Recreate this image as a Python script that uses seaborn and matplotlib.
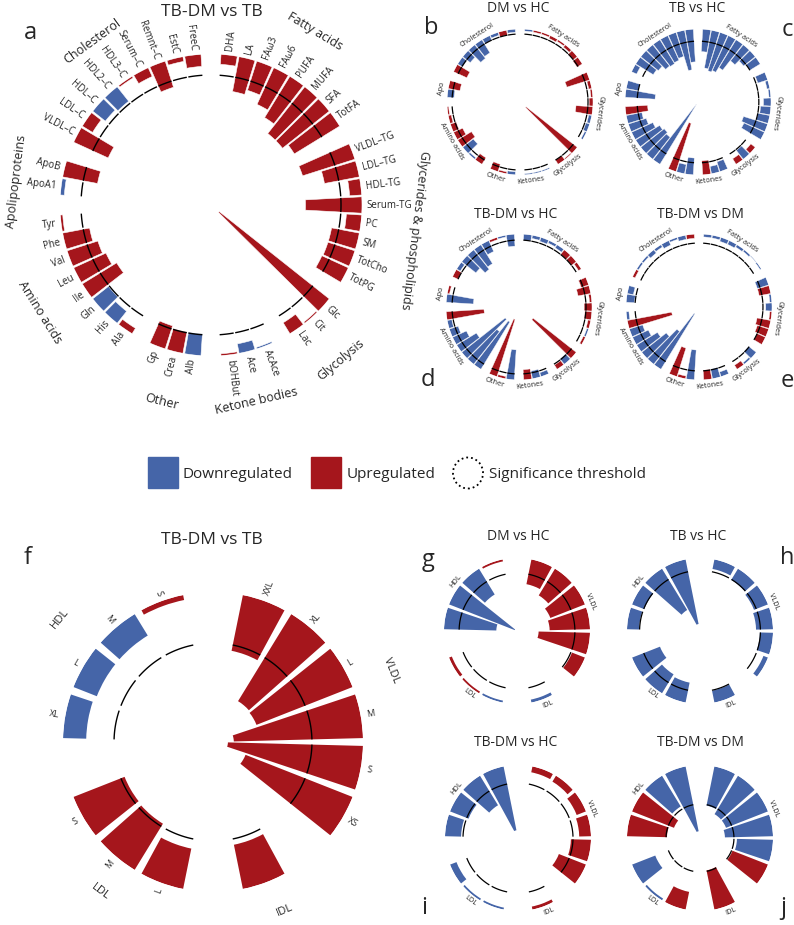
import numpy as np
import matplotlib.pyplot as plt
import seaborn as sns
from matplotlib.patches import Rectangle, Ellipse

sns.set_theme(style="white")
plt.rcParams['font.family'] = ['Open Sans', 'DejaVu Sans']
BLUE, RED = sns.color_palette(["#4565A8", "#A5161C"])

W, H = 794, 925

# ---- metabolite groups (clockwise from top) ----
fa = ["DHA", "LA", "FAω3", "FAω6", "PUFA", "MUFA", "SFA", "TotFA"]
gly = ["VLDL–TG", "LDL–TG", "HDL-TG", "Serum-TG", "PC", "SM", "TotCho", "TotPG"]
glyco = ["Glc", "Cit", "Lac"]
ket = ["AcAce", "Ace", "bOHBut"]
oth = ["Alb", "Crea", "Gp"]
aa = ["Ala", "His", "Gln", "Ile", "Leu", "Val", "Phe", "Tyr"]
apo = ["ApoA1", "ApoB"]
chol = ["VLDL–C", "LDL–C", "HDL–C", "HDL2–C", "HDL3–C", "Serum–C", "Remnt–C", "EstC", "FreeC"]
metab_groups = [fa, gly, glyco, ket, oth, aa, apo, chol]

# group labels: (text, angle in deg clockwise from top, radius factor)
big_glabels = [("Fatty acids", 31, 1.34), ("Glycerides & phospholipids", 97, 1.36), ("Glycolysis", 140, 1.34),
               ("Ketone bodies", 167, 1.33), ("Other", 194, 1.34), ("Amino acids", 238, 1.34),
               ("Apolipoproteins", 277, 1.30), ("Cholesterol", 324, 1.34)]
small_glabels = [("Fatty acids", 33, 1.085), ("Glycerides", 98, 1.085), ("Glycolysis", 143, 1.085),
                 ("Ketones", 172, 1.085), ("Other", 198, 1.085), ("Amino acids", 240, 1.085),
                 ("Apo", 280, 1.085), ("Cholesterol", 327, 1.085)]

# signed -log10(p): >0 upregulated, <0 downregulated (order: fa, gly, glyco, ket, oth, aa, apo, chol)
a_vals = [0.62, 2.2, 1.9, 2.5, 3.0, 3.7, 3.7, 3.3,
          3.4, 2.2, 0.75, 3.5, 0.95, 1.75, 1.75, 1.8,
          8.7, 0.1, 0.8,
          -0.1, -0.6, 0.12,
          -1.35, 1.35, 1.5,
          0.4, -0.95, -1.25, 2.5, 2.2, 2.0, 1.7, 0.15,
          -0.25, 2.2,
          2.35, 0.75, -1.0, -1.15, 0.12, 0.6, 1.7, 0.3, 0.75]
b_vals = [-0.5, 0.5, 0.5, 0.8, 0.5, 0.8, 1.3, 1.6,
          6.2, 0.8, 0.5, 1.0, 4.4, -0.8, -1.0, -0.5,
          17.0, 0.3, 1.3,
          -0.3, -0.3, -0.3,
          -0.8, 0.5, 2.0,
          2.0, -0.5, -3.5, 4.2, 2.6, 1.6, 0.8, 0.4,
          -1.8, 3.1,
          3.8, -1.5, -2.5, -4.5, -4.0, -1.3, -0.8, 1.3, -0.8]
c_vals = [-2.4, -4.1, -4.3, -4.1, -3.5, -2.2, -1.6, -1.3,
          -1.1, -0.3, -0.2, -0.8, -1.1, -1.3, -2.7, -2.4,
          0.6, -1.2, 0.7,
          -1.1, -0.8, 1.5,
          -1.8, -1.0, 5.4,
          -7.5, -3.0, -3.2, -3.0, -2.5, -2.0, -1.7, 2.4,
          -3.2, -1.3,
          -0.6, -2.2, -2.4, -2.9, -3.0, -2.9, -2.7, -4.3, -3.5]
d_vals = [-1.3, -0.7, -0.9, -0.6, -0.8, 1.3, 1.3, 0.7,
          1.7, 2.8, 0.5, 1.7, 1.5, 0.6, -0.4, 0.5,
          11.9, -1.5, 1.1,
          -0.9, -1.7, 2.2,
          -6.5, 0.5, 13.0,
          -12.0, -9.0, -12.0, -5.0, -3.3, -2.0, -1.0, 8.2,
          -5.9, 0.5,
          1.3, -0.9, -3.9, -5.4, -4.8, -2.6, 0.5, -0.4, -2.6]
e_vals = [-0.4, -0.4, -0.6, -0.6, -0.4, -0.3, -0.1, -0.2,
          -1.7, 1.7, -0.3, -0.9, 0.3, 2.0, 1.7, 1.3,
          -1.4, -0.3, 0.7,
          -0.7, -1.4, 1.4,
          -4.3, 0.4, 4.3,
          -9.4, -6.0, -4.5, -3.5, -2.5, -2.0, 6.5, -0.4,
          -1.2, -0.9,
          0.4, -0.3, -0.3, -0.6, -0.4, -0.7, -0.3, -0.6, 0.6]

# ---- lipoprotein subclasses ----
vldl = ["XXL", "XL", "L", "M", "S", "XS"]
idl = [""]
ldl = ["L", "M", "S"]
hdl = ["XL", "L", "M", "S"]
lipo_groups = [vldl, idl, ldl, hdl]
big_llabels = [("VLDL", 68, 1.28), ("IDL", 157, 1.22), ("LDL", 217, 1.25), ("HDL", 309, 1.31)]
small_llabels = [("VLDL", 68, 1.09), ("IDL", 157, 1.09), ("LDL", 217, 1.08), ("HDL", 309, 1.08)]

f_vals = [1.45, 2.6, 2.63, 3.29, 3.44, 2.93, 1.15, 1.05, 1.38, 1.40, -0.59, -0.64, -0.64, 0.13]
g_vals = [2.17, 2.69, 3.2, 3.47, 4.42, 1.2, -0.26, -0.17, 0.17, 0.26, -4.5, -6.07, -2.6, 0.17]
h_vals = [-1.0, -1.35, -1.55, -1.75, -1.35, -0.5, -1.25, -2.1, -2.3, -3.1, -1.25, -1.35, -5.0, -6.8]
i_vals = [0.43, 0.5, 0.72, 0.85, 1.45, 2.1, 0.22, -0.14, -0.14, -0.5, -1.16, -1.44, -2.5, -4.7]
j_vals = [-1.33, -1.5, -1.5, -1.6, -1.2, 1.27, 1.33, 0.6, -0.07, -0.83, 1.33, 1.5, -1.2, -2.2]

THR = 1.3  # -log10(0.05)


def slot_layout(groups):
    # one empty slot before each group, equal angular slots round the circle
    k, slots = 0, []
    for g in groups:
        for _ in g:
            k += 1
            slots.append(k)
        k += 1
    return np.array(slots), k


def polar_ax(fig, cx, cy, R):
    ax = fig.add_axes([(cx - R) / W, 1 - (cy + R) / H, 2 * R / W, 2 * R / H], projection='polar')
    ax.set_theta_zero_location('N')
    ax.set_theta_direction(-1)
    ax.set_axis_off()
    return ax


def tang_rot(deg):
    return 180 - deg if 110 < deg < 250 else -deg


def draw_circ(ax, groups, vals, rmax, wfrac=0.9, thr_lw=1.0, edge_lw=0.4):
    slots, n = slot_layout(groups)
    step = 2 * np.pi / n
    th = slots * step
    v = np.array(vals)
    h = np.abs(v)
    cols = [RED if x > 0 else BLUE for x in v]
    # bars hang inwards from the outer rim
    ax.bar(th, h, width=step * wfrac, bottom=rmax - h, color=cols,
           edgecolor='white', linewidth=edge_lw, zorder=2)
    for t in th:
        tt = np.linspace(t - step * wfrac / 2, t + step * wfrac / 2, 30)
        ax.plot(tt, np.full_like(tt, rmax - THR), color='black', lw=thr_lw,
                solid_capstyle='butt', zorder=3)
    ax.set_ylim(0, rmax)
    return th


def group_labels(ax, labels, rmax, size):
    for txt, deg, rf in labels:
        ax.text(np.deg2rad(deg), rmax * rf, txt, rotation=tang_rot(deg), rotation_mode='anchor',
                ha='center', va='center', fontsize=size)


def radial_labels(ax, th, names, r, size):
    for t, s in zip(th, names):
        deg = np.rad2deg(t) % 360
        if deg < 180:
            ax.text(t, r, s, rotation=90 - deg, rotation_mode='anchor', ha='left', va='center', fontsize=size)
        else:
            ax.text(t, r, s, rotation=270 - deg, rotation_mode='anchor', ha='right', va='center', fontsize=size)


fig = plt.figure(figsize=(W / 100, H / 100), dpi=100)


def ftext(x, y, s, size, **kw):
    fig.text(x / W, 1 - y / H, s, fontsize=size, ha='center', va='center', **kw)


# ---- panel a ----
ra = 9.35
ax = polar_ax(fig, 211, 205, 151)
th = draw_circ(ax, metab_groups, a_vals, ra, wfrac=0.9)
radial_labels(ax, th, sum(metab_groups, []), ra * 1.03, 7)
group_labels(ax, big_glabels, ra, 9)
ftext(212, 12, "TB-DM vs TB", 12.5)
ftext(30, 33, "a", 17)

# ---- panels b-e ----
small = [(520, 102, b_vals, 19.0, "DM vs HC", (518, 8), "b", (431, 28)),
         (698, 102, c_vals, 7.8, "TB vs HC", (697, 8), "c", (787, 30)),
         (519, 307, d_vals, 15.8, "TB-DM vs HC", (516, 214), "d", (428, 380)),
         (699, 307, e_vals, 10.5, "TB-DM vs DM", (700, 214), "e", (787, 381))]
for cx, cy, vals, rm, title, tpos, letter, lpos in small:
    ax = polar_ax(fig, cx, cy, 73)
    draw_circ(ax, metab_groups, vals, rm, wfrac=0.92, thr_lw=0.9, edge_lw=0.3)
    group_labels(ax, small_glabels, rm, 5.3)
    ftext(*tpos, title, 10)
    ftext(*lpos, letter, 17)

# ---- legend ----
fig.add_artist(Rectangle((148 / W, 1 - 488 / H), 30 / W, 31 / H, color=BLUE, transform=fig.transFigure))
fig.add_artist(Rectangle((311 / W, 1 - 488 / H), 30 / W, 31 / H, color=RED, transform=fig.transFigure))
fig.add_artist(Ellipse((468 / W, 1 - 473 / H), 30 / W, 31 / H, fill=False, ls=':', lw=1.3,
                       edgecolor='black', transform=fig.transFigure))
for x, s in [(183, "Downregulated"), (347, "Upregulated"), (489, "Significance threshold")]:
    fig.text(x / W, 1 - 474 / H, s, fontsize=11, ha='left', va='center')

# ---- panel f ----
rf = 3.82
ax = polar_ax(fig, 213, 742, 150)
th = draw_circ(ax, lipo_groups, f_vals, rf, wfrac=0.85, thr_lw=1.0, edge_lw=0)
radial_labels(ax, th, sum(lipo_groups, []), rf * 1.04, 6.5)
group_labels(ax, big_llabels, rf, 8)
ftext(212, 540, "TB-DM vs TB", 12.5)
ftext(28, 558, "f", 17)

# ---- panels g-j ----
small_l = [(517, 631, g_vals, 6.28, "DM vs HC", (518, 536), "g", (428, 560)),
           (700, 631, h_vals, 7.54, "TB vs HC", (698, 536), "h", (787, 558)),
           (518, 838, i_vals, 5.27, "TB-DM vs HC", (516, 742), "i", (424, 908)),
           (700, 838, j_vals, 2.43, "TB-DM vs DM", (700, 742), "j", (783, 908))]
for cx, cy, vals, rm, title, tpos, letter, lpos in small_l:
    ax = polar_ax(fig, cx, cy, 73)
    draw_circ(ax, lipo_groups, vals, rm, wfrac=0.86, thr_lw=0.9, edge_lw=0)
    group_labels(ax, small_llabels, rm, 5.3)
    ftext(*tpos, title, 10)
    ftext(*lpos, letter, 17)

fig.savefig("out.png", dpi=100)
